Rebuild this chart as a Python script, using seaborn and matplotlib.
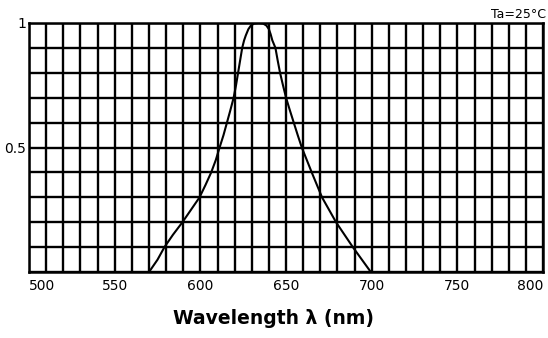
import numpy as np
import pandas as pd
import matplotlib
matplotlib.use('Agg')
import matplotlib.pyplot as plt
import seaborn as sns

wavelength = [570, 575, 579, 584, 589.5, 594.5, 599.5, 603, 606.3, 609, 611.2, 613.5,
              615.5, 617.5, 619.4, 620.8, 622, 623.2, 624.4, 625.5, 626.5, 628, 629.5,
              631.5, 634, 636.5, 638.5, 640, 641, 642, 643.8, 645.1, 646.5, 648.2, 650,
              652.2, 654.5, 656.8, 659.2, 665, 671, 679.2, 689, 699.5]
intensity = [0.0, 0.05, 0.1, 0.15, 0.2, 0.25, 0.3, 0.35, 0.4, 0.45, 0.5, 0.55,
             0.6, 0.65, 0.7, 0.75, 0.8, 0.85, 0.9, 0.93, 0.95, 0.975, 0.99,
             0.998, 1.0, 0.998, 0.99, 0.975, 0.955, 0.93, 0.9, 0.85, 0.8, 0.75, 0.7,
             0.65, 0.6, 0.55, 0.5, 0.4, 0.3, 0.2, 0.1, 0.0]

x_ticks = [500, 550, 600, 650, 700, 750, 800]
y_ticks = [0.5, 1]
y_tick_labels = ['0.5', '1']

df = pd.DataFrame({'Wavelength': wavelength, 'Intensidad': intensity})

sns.set_style('white')
plt.rcParams['font.family'] = ['DejaVu Sans']
plt.rcParams['text.color'] = 'black'
plt.rcParams['xtick.color'] = 'black'
plt.rcParams['ytick.color'] = 'black'
plt.rcParams['axes.labelcolor'] = 'black'

fig = plt.figure(figsize=(5.48, 3.38), dpi=100)
ax = fig.add_axes([0.053, 0.195, 0.938, 0.737])

sns.lineplot(data=df, x='Wavelength', y='Intensidad', color='black', linewidth=1.5,
             ax=ax, sort=False)

ax.set_xlim(500, 800)
ax.set_ylim(0, 1)
ax.set_xticks(x_ticks)
ax.set_xticks(np.arange(500, 801, 10), minor=True)
ax.set_yticks(y_ticks)
ax.set_yticklabels(y_tick_labels)
ax.set_yticks(np.arange(0, 1.01, 0.1), minor=True)
ax.grid(True, which='both', color='black', linewidth=1.7)
ax.set_axisbelow(True)
ax.tick_params(which='both', length=0, labelsize=10, labelcolor='black')
ax.tick_params(axis='x', pad=5)
ax.tick_params(axis='y', pad=2)
xl = ax.get_xticklabels()
xl[0].set_horizontalalignment('left')
xl[-1].set_horizontalalignment('right')
for s in ax.spines.values():
    s.set_color('black')
    s.set_linewidth(1.8)

ax.set_xlabel('Wavelength λ (nm)', fontsize=13.5, fontweight='bold', color='black')
ax.xaxis.set_label_coords(0.475, -0.15)
ax.set_ylabel('')
fig.text(0.996, 0.938, 'Ta=25°C', ha='right', va='bottom', fontsize=9, color='black')

fig.savefig('out.png', dpi=100)
